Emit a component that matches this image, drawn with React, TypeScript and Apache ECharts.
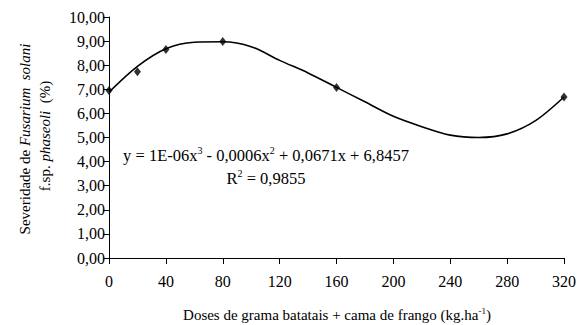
import React, { useEffect, useRef } from "react";
import * as echarts from "echarts";

const doses = [0, 20, 40, 80, 160, 320];
const severity = [6.95, 7.73, 8.65, 8.98, 7.07, 6.68];
const trendX = [0, 20, 40, 60, 80, 100, 120, 140, 160, 180, 200, 220, 240, 260, 280, 300, 320];
const trendY = [6.88, 7.95, 8.68, 8.95, 8.97, 8.77, 8.2, 7.68, 7.08, 6.48, 5.88, 5.45, 5.1, 5.0, 5.15, 5.7, 6.68];
const yTicks = ["0,00", "1,00", "2,00", "3,00", "4,00", "5,00", "6,00", "7,00", "8,00", "9,00", "10,00"];
const xTicks = [0, 40, 80, 120, 160, 200, 240, 280, 320];

const FONT = "Liberation Serif";

export default function App() {
  const ref = useRef<HTMLDivElement>(null);
  useEffect(() => {
    document.body.style.margin = "0";
    const chart = echarts.init(ref.current!, null, { renderer: "svg" });
    const sup = { fontSize: 10, fontFamily: FONT, color: "#000", padding: [0, 0, 9, 0] };
    const base = { fontSize: 15, fontFamily: FONT, color: "#000" };
    chart.setOption({
      animation: false,
      backgroundColor: "#fff",
      textStyle: { fontFamily: FONT },
      grid: { left: 109, right: 14, top: 17, bottom: 67 },
      xAxis: {
        type: "value",
        min: 0,
        max: 320,
        interval: 40,
        axisLine: { lineStyle: { color: "#000", width: 1 } },
        axisTick: { show: true, length: 6, lineStyle: { color: "#000" } },
        axisLabel: { color: "#000", fontFamily: FONT, fontSize: 16, margin: 15, formatter: (v: number) => (xTicks.includes(v) ? String(v) : "") },
        splitLine: { show: false },
      },
      yAxis: {
        type: "value",
        min: 0,
        max: 10,
        interval: 1,
        axisLine: { show: true, lineStyle: { color: "#000", width: 1 } },
        axisTick: { show: true, length: 6, lineStyle: { color: "#000" } },
        axisLabel: { color: "#000", fontFamily: FONT, fontSize: 16, margin: 4, formatter: (v: number) => yTicks[Math.round(v)] ?? "" },
        splitLine: { show: false },
      },
      series: [
        {
          type: "line",
          data: trendX.map((x, i) => [x, trendY[i]]),
          smooth: 0.3,
          showSymbol: false,
          lineStyle: { color: "#000", width: 1.6 },
          z: 2,
        },
        {
          type: "scatter",
          data: doses.map((x, i) => [x, severity[i]]),
          symbol: "diamond",
          symbolSize: [7, 9],
          itemStyle: { color: "#000" },
          z: 3,
        },
      ],
      graphic: [
        {
          type: "text",
          x: 266,
          y: 155,
          style: {
            text: "y = 1E-06x{s|3} - 0,0006x{s|2} + 0,0671x + 6,8457",
            ...base,
            fontSize: 16.5,
            align: "center",
            verticalAlign: "middle",
            rich: { s: sup },
          },
        },
        {
          type: "text",
          x: 266,
          y: 178,
          style: {
            text: "R{s|2} = 0,9855",
            ...base,
            fontSize: 16.5,
            align: "center",
            verticalAlign: "middle",
            rich: { s: sup },
          },
        },
        {
          type: "text",
          x: 337,
          y: 315,
          style: {
            text: "Doses de grama batatais + cama de frango (kg.ha{s|-1})",
            ...base,
            fontSize: 15,
            align: "center",
            verticalAlign: "middle",
            rich: { s: { ...sup, fontSize: 9 } },
          },
        },
        {
          type: "text",
          x: 25,
          y: 139,
          rotation: Math.PI / 2,
          style: {
            text: "Severidade de {i|Fusarium  solani}",
            ...base,
            align: "center",
            verticalAlign: "middle",
            rich: { i: { ...base, fontStyle: "italic" } },
          },
        },
        {
          type: "text",
          x: 45,
          y: 136,
          rotation: Math.PI / 2,
          style: {
            text: "f.sp. {i|phaseoli}  (%)",
            ...base,
            align: "center",
            verticalAlign: "middle",
            rich: { i: { ...base, fontStyle: "italic" } },
          },
        },
      ],
    });
    return () => chart.dispose();
  }, []);
  return <div ref={ref} style={{ width: 579, height: 325 }} />;
}
